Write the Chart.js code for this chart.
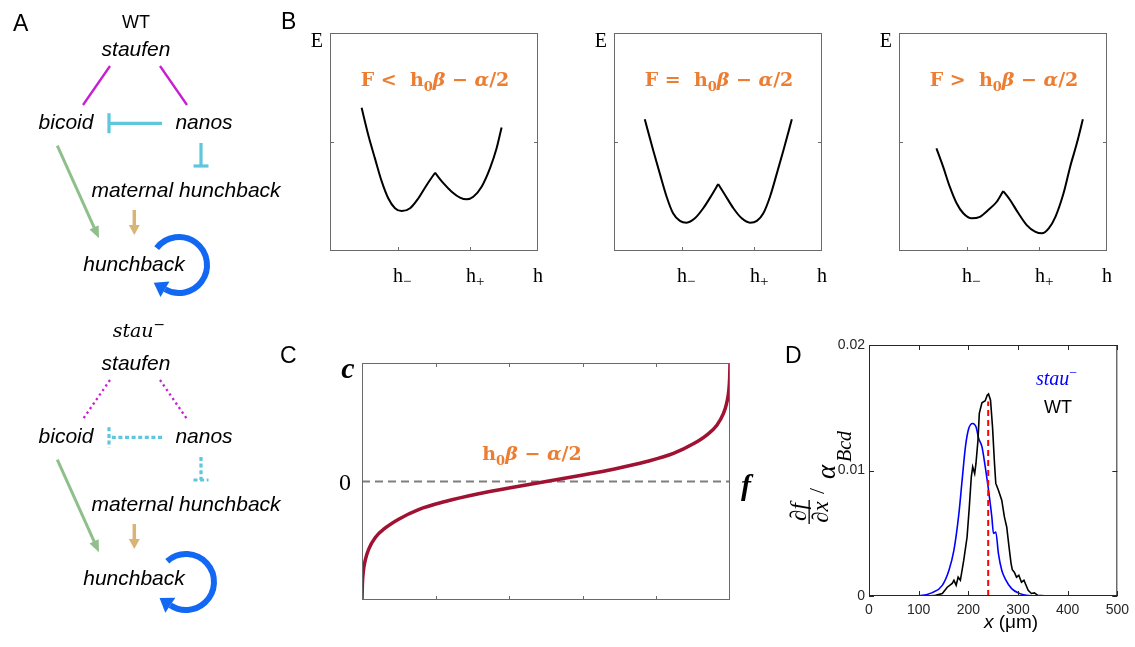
<!DOCTYPE html>
<html>
<head>
<meta charset="utf-8">
<script src="https://cdn.jsdelivr.net/npm/chart.js"></script>
<style>
  html, body { margin: 0; padding: 0; background: #fff; }
  #page { position: relative; width: 1135px; height: 647px; overflow: hidden; }
  #page canvas { position: absolute; }
  .tag { position: absolute; font: 23px "Liberation Sans", Arial, sans-serif; line-height: 23px; color: #000; }
</style>
</head>
<body>
<div id="page">
  <canvas id="netChart" width="298" height="647" style="left:0;top:0"></canvas>
  <canvas id="energyLow" width="270" height="300" style="left:300px;top:0"></canvas>
  <canvas id="energyEq" width="280" height="300" style="left:575px;top:0"></canvas>
  <canvas id="energyHigh" width="275" height="300" style="left:860px;top:0"></canvas>
  <canvas id="curveChart" width="480" height="300" style="left:280px;top:330px"></canvas>
  <canvas id="gradChart" width="355" height="317" style="left:780px;top:330px"></canvas>
  <div class="tag" style="left:13px;top:12px">A</div>
  <div class="tag" style="left:281px;top:10px">B</div>
  <div class="tag" style="left:280px;top:344px">C</div>
  <div class="tag" style="left:785px;top:344px">D</div>
</div>
<script>
const SANS = '"Liberation Sans", Arial, sans-serif';
const SERIF = '"Liberation Serif", "Times New Roman", serif';
const MATH = '"DejaVu Serif", serif';
const ORANGE = '#ed7d31';

// ---- B: energy E(h), left branch up to the cusp and right branch after it ----
const hTicks = [0.325, 0.675];
const hTickSigns = ['\u2212', '+'];
const eTicks = [0.5];

const lowLeftH  = [0.152, 0.184, 0.216, 0.249, 0.280, 0.3125, 0.345, 0.385, 0.425, 0.465, 0.505];
const lowLeftE  = [0.657, 0.532, 0.425, 0.318, 0.242, 0.196, 0.183, 0.196, 0.242, 0.303, 0.359];
const lowRightH = [0.505, 0.545, 0.585, 0.625, 0.657, 0.689, 0.729, 0.769, 0.801, 0.825];
const lowRightE = [0.359, 0.311, 0.272, 0.245, 0.237, 0.249, 0.295, 0.379, 0.471, 0.567];

const eqLeftH  = [0.148, 0.188, 0.220, 0.253, 0.284, 0.317, 0.349, 0.389, 0.429, 0.470, 0.501];
const eqLeftE  = [0.604, 0.463, 0.356, 0.249, 0.173, 0.138, 0.130, 0.150, 0.196, 0.257, 0.307];
const eqRightH = [0.501, 0.534, 0.574, 0.614, 0.654, 0.687, 0.718, 0.750, 0.783, 0.815, 0.855];
const eqRightE = [0.307, 0.257, 0.196, 0.150, 0.130, 0.138, 0.173, 0.249, 0.356, 0.463, 0.604];

const highLeftH  = [0.180, 0.212, 0.244, 0.277, 0.309, 0.349, 0.389, 0.429, 0.470, 0.501];
const highLeftE  = [0.471, 0.387, 0.295, 0.219, 0.173, 0.150, 0.157, 0.188, 0.226, 0.275];
const highRightH = [0.501, 0.534, 0.574, 0.614, 0.654, 0.687, 0.720, 0.752, 0.791, 0.823, 0.855, 0.884];
const highRightE = [0.275, 0.234, 0.173, 0.119, 0.089, 0.081, 0.104, 0.157, 0.265, 0.387, 0.494, 0.604];

// ---- C: c as a function of f ----
const fVals = [0, 0.005, 0.018, 0.045, 0.090, 0.181, 0.317, 0.498, 0.769, 1.131, 1.584, 2.036, 2.5,
               2.964, 3.416, 3.869, 4.231, 4.502, 4.683, 4.819, 4.910, 4.955, 4.982, 4.995, 5];
const cVals = [-1, -0.873, -0.761, -0.662, -0.572, -0.473, -0.392, -0.318, -0.237, -0.169, -0.104, -0.051, 0,
               0.051, 0.104, 0.169, 0.237, 0.318, 0.392, 0.473, 0.572, 0.662, 0.761, 0.873, 1];
const fTicks = [1, 2, 3, 4];

// ---- D: df/dx / alpha_Bcd along the embryo ----
const stauX = [0, 50, 100, 127.6, 147.6, 161, 171, 181, 187.5, 194.2, 200.8, 208.8, 215.4, 220.8, 227.4,
               234, 240.7, 247.3, 250.7, 255.3, 260.6, 267.3, 274, 287.2, 304, 320.5, 340, 400, 450, 500];
const stauY = [0, 0, 0.00002, 0.00027, 0.00085, 0.00205, 0.00365, 0.00657, 0.00923, 0.0119, 0.01335, 0.01375,
               0.01348, 0.01256, 0.0119, 0.0103, 0.00843, 0.0063, 0.00498, 0.0051, 0.00338, 0.00205, 0.00139,
               0.00059, 0.00019, 0.00004, 0, 0, 0, 0];
const wtX = [0, 60, 120, 134, 147.6, 157.6, 167.5, 171, 175.5, 179.5, 184, 190.8, 197.5, 202, 206, 208.8, 212.8,
             215.4, 219.4, 222.1, 227.4, 234, 238, 240.7, 244.7, 248.7, 252.7, 255.3, 260.6, 267.3, 272.6, 277.3,
             282, 286, 288.5, 292.6, 297, 301.7, 307, 312, 320.5, 327, 333, 340, 360, 420, 500];
const wtY = [0, 0, 0, 0.00005, 0.0002, 0.0007, 0.001, 0.00125, 0.00086, 0.0015, 0.00125, 0.00285, 0.0047, 0.0071,
             0.0095, 0.0103, 0.00976, 0.01056, 0.0124, 0.01455, 0.0154, 0.01556, 0.0160, 0.0161, 0.0156, 0.01348,
             0.01056, 0.00897, 0.00843, 0.00763, 0.0063, 0.0055, 0.0039, 0.0026, 0.0021, 0.0019, 0.0015, 0.00165,
             0.0011, 0.00125, 0.00045, 0.0002, 0.00025, 0.00005, 0, 0, 0];
const markX = [240, 240];
const markY = [0, 0.0155];
const xTicksUm = [0, 100, 200, 300, 400, 500];
const yTicksGrad = [0, 0.01, 0.02];
const yTickLabels = ['0', '0.01', '0.02'];

// ---- A: network layout (WT on top, stau- below) ----
const netShift = [0, 314];
const netLoopCentre = [[179, 265], [186, 268]];
const netLoopFrom = [-143, -132];
const netLoopTo = [120, 124];
const netNodes = [
  ['staufen', 136, 55.5],
  ['bicoid', 66, 129.3],
  ['nanos', 204, 129.3],
  ['maternal hunchback', 186, 197],
  ['hunchback', 134, 270.7]
];
const netLinks = [
  { x1: 110, y1: 66, x2: 83, y2: 105, color: '#c81ed2', w: 2.3, dash: [2.3, 3.2] },
  { x1: 160, y1: 66, x2: 187, y2: 105, color: '#c81ed2', w: 2.3, dash: [2.3, 3.2] },
  { x1: 162, y1: 123.3, x2: 109, y2: 123.3, color: '#5ec6dd', w: 3.2, dash: [4, 2.6], bar: 10 },
  { x1: 201, y1: 143, x2: 201, y2: 166, color: '#5ec6dd', w: 3.2, dash: [4, 2.6], bar: 7.5 },
  { x1: 57.3, y1: 145.7, x2: 99, y2: 238.3, color: '#8fc08b', w: 3, head: [12, 5] },
  { x1: 134.3, y1: 210, x2: 134.3, y2: 235, color: '#d9b477', w: 3.5, head: [10, 5.5] }
];

function drawParts(ctx, parts, x, y, align) {
  let w = 0;
  parts.forEach(p => { ctx.font = p[1]; w += ctx.measureText(p[0]).width; });
  let cx = align === 'center' ? x - w / 2 : align === 'right' ? x - w : x;
  ctx.textAlign = 'left';
  ctx.textBaseline = 'alphabetic';
  parts.forEach(p => {
    ctx.font = p[1];
    ctx.fillText(p[0], cx, y + (p[2] || 0));
    cx += ctx.measureText(p[0]).width;
  });
}

function formulaParts(lead) {
  const b = 'bold 19px ' + MATH, bi = 'bold italic 19px ' + MATH, sub = 'bold 13px ' + MATH;
  const parts = lead ? [[lead, b]] : [];
  return parts.concat([['h', b], ['0', sub, 5], ['\u03b2', bi], [' \u2212 ', b], ['\u03b1', bi], ['/2', b]]);
}

function lineSet(xs, ys, color, width, extra) {
  return Object.assign({
    data: xs.map((x, i) => ({ x: x, y: ys[i] })),
    borderColor: color,
    borderWidth: width,
    pointRadius: 0,
    fill: false,
    tension: 0
  }, extra || {});
}

function baseOptions(pad, xr, yr, extraPlugins) {
  return {
    responsive: false,
    animation: false,
    events: [],
    layout: { padding: pad },
    plugins: Object.assign({ legend: { display: false }, tooltip: { enabled: false } }, extraPlugins || {}),
    scales: {
      x: { type: 'linear', min: xr[0], max: xr[1], display: false },
      y: { type: 'linear', min: yr[0], max: yr[1], display: false, reverse: !!yr[2] }
    }
  };
}

// box round the plot area with ticks pointing inwards
const framePlugin = {
  id: 'frame',
  afterDatasetsDraw(chart, args, o) {
    const ctx = chart.ctx, a = chart.chartArea;
    const sx = chart.scales.x, sy = chart.scales.y;
    ctx.save();
    ctx.strokeStyle = o.color;
    ctx.lineWidth = 1;
    ctx.strokeRect(a.left + 0.5, a.top + 0.5, a.right - a.left - 1, a.bottom - a.top - 1);
    ctx.beginPath();
    (o.xTicks || []).forEach(v => {
      const px = Math.round(sx.getPixelForValue(v)) + 0.5;
      ctx.moveTo(px, a.bottom); ctx.lineTo(px, a.bottom - o.len);
      if (o.top) { ctx.moveTo(px, a.top); ctx.lineTo(px, a.top + o.len); }
    });
    (o.yTicks || []).forEach(v => {
      const py = Math.round(sy.getPixelForValue(v)) + 0.5;
      ctx.moveTo(a.left, py); ctx.lineTo(a.left + o.len, py);
      if (o.right) { ctx.moveTo(a.right, py); ctx.lineTo(a.right - o.len, py); }
    });
    ctx.stroke();
    ctx.restore();
  }
};

// ---------- A ----------
const netSets = [];
netShift.forEach((off, d) => {
  netLinks.forEach(l => {
    let x2 = l.x2, y2 = l.y2;
    const len = Math.hypot(l.x2 - l.x1, l.y2 - l.y1);
    const ux = (l.x2 - l.x1) / len, uy = (l.y2 - l.y1) / len;
    if (l.head) { x2 -= ux * l.head[0] * 0.7; y2 -= uy * l.head[0] * 0.7; }
    const dash = d === 1 && l.dash ? l.dash : [];
    netSets.push(lineSet([l.x1, x2], [l.y1 + off, y2 + off], l.color, l.w, { borderDash: dash, borderCapStyle: 'butt' }));
    if (l.bar) {
      netSets.push(lineSet([l.x2 - uy * l.bar, l.x2 + uy * l.bar], [l.y2 + ux * l.bar + off, l.y2 - ux * l.bar + off],
        l.color, l.w, { borderDash: dash, borderCapStyle: 'butt' }));
    }
  });
});

new Chart(document.getElementById('netChart'), {
  type: 'line',
  data: { datasets: netSets },
  options: baseOptions(0, [0, 298], [0, 647, true]),
  plugins: [{
    id: 'netMarks',
    afterDatasetsDraw(chart) {
      const ctx = chart.ctx, sx = chart.scales.x, sy = chart.scales.y;
      const X = v => sx.getPixelForValue(v), Y = v => sy.getPixelForValue(v);
      ctx.save();
      netShift.forEach((off, d) => {
        // arrow heads
        netLinks.filter(l => l.head).forEach(l => {
          const len = Math.hypot(l.x2 - l.x1, l.y2 - l.y1);
          const ux = (l.x2 - l.x1) / len, uy = (l.y2 - l.y1) / len;
          const tx = X(l.x2), ty = Y(l.y2 + off);
          const bx = tx - ux * l.head[0], by = ty - uy * l.head[0];
          ctx.fillStyle = l.color;
          ctx.beginPath();
          ctx.moveTo(tx, ty);
          ctx.lineTo(bx - uy * l.head[1], by + ux * l.head[1]);
          ctx.lineTo(bx + uy * l.head[1], by - ux * l.head[1]);
          ctx.closePath();
          ctx.fill();
        });
        // self-activation loop on hunchback
        const c = netLoopCentre[d];
        const cx = X(c[0]), cy = Y(c[1] + off), r = 28;
        const a0 = netLoopFrom[d] * Math.PI / 180, a1 = netLoopTo[d] * Math.PI / 180;
        ctx.strokeStyle = '#1268f2';
        ctx.lineWidth = 6;
        ctx.beginPath();
        ctx.arc(cx, cy, r, a0, a1);
        ctx.stroke();
        const px = cx + r * Math.cos(a1), py = cy + r * Math.sin(a1);
        const tx = -Math.sin(a1), ty = Math.cos(a1), nx = Math.cos(a1), ny = Math.sin(a1);
        ctx.fillStyle = '#1268f2';
        ctx.beginPath();
        ctx.moveTo(px + tx * 13, py + ty * 13);
        ctx.lineTo(px + nx * 9, py + ny * 9);
        ctx.lineTo(px - nx * 9, py - ny * 9);
        ctx.closePath();
        ctx.fill();
        // gene names
        ctx.fillStyle = '#000';
        netNodes.forEach(n => drawParts(ctx, [[n[0], 'italic 21px ' + SANS]], X(n[1]), Y(n[2] + off), 'center'));
      });
      drawParts(ctx, [['WT', '18px ' + SANS]], X(136), Y(28.3), 'center');
      drawParts(ctx, [['stau', 'italic 19px ' + MATH], ['\u2212', '14px ' + MATH, -8]], X(139), Y(337.3), 'center');
      ctx.restore();
    }
  }]
});

// ---------- B ----------
function energyChart(id, pad, lh, le, rh, re, rel) {
  new Chart(document.getElementById(id), {
    type: 'line',
    data: {
      datasets: [
        lineSet(lh, le, '#000', 2, { cubicInterpolationMode: 'monotone' }),
        lineSet(rh, re, '#000', 2, { cubicInterpolationMode: 'monotone' })
      ]
    },
    options: baseOptions(pad, [0, 1], [0, 1], {
      frame: { color: '#6a6a6a', len: 4, xTicks: hTicks, yTicks: eTicks, right: true }
    }),
    plugins: [framePlugin, {
      id: 'energyText',
      afterDraw(chart) {
        const ctx = chart.ctx, a = chart.chartArea, sx = chart.scales.x;
        ctx.save();
        ctx.fillStyle = ORANGE;
        drawParts(ctx, formulaParts('F ' + rel + '  '), (a.left + a.right) / 2 + 1, 86, 'center');
        ctx.fillStyle = '#000';
        drawParts(ctx, [['E', '20px ' + SERIF]], a.left - 7, 47, 'right');
        drawParts(ctx, [['h', '20px ' + SERIF]], a.right, 281.5, 'center');
        hTicks.forEach((v, i) => {
          drawParts(ctx, [['h', '20px ' + SERIF], [hTickSigns[i], '15px ' + SERIF, 4]], sx.getPixelForValue(v) - 4.5, 281.5, 'left');
        });
        ctx.restore();
      }
    }]
  });
}
energyChart('energyLow', { left: 30, right: 32, top: 33, bottom: 49 }, lowLeftH, lowLeftE, lowRightH, lowRightE, '<');
energyChart('energyEq', { left: 39, right: 33, top: 33, bottom: 49 }, eqLeftH, eqLeftE, eqRightH, eqRightE, '=');
energyChart('energyHigh', { left: 39, right: 28, top: 33, bottom: 49 }, highLeftH, highLeftE, highRightH, highRightE, '>');

// ---------- C ----------
new Chart(document.getElementById('curveChart'), {
  type: 'line',
  data: {
    datasets: [
      lineSet(fVals, cVals, '#a01232', 3.5, { cubicInterpolationMode: 'monotone' }),
      lineSet([0, 5], [0, 0], '#7f7f7f', 2, { borderDash: [8, 5] })
    ]
  },
  options: baseOptions({ left: 82, right: 30, top: 33, bottom: 30 }, [0, 5], [-1, 1], {
    frame: { color: '#6a6a6a', len: 4, xTicks: fTicks, top: true }
  }),
  plugins: [framePlugin, {
    id: 'curveText',
    afterDraw(chart) {
      const ctx = chart.ctx, a = chart.chartArea, sy = chart.scales.y;
      ctx.save();
      ctx.fillStyle = '#000';
      drawParts(ctx, [['c', 'bold italic 30px ' + SERIF]], a.left - 14, a.top + 15, 'center');
      drawParts(ctx, [['0', '24px ' + SERIF]], a.left - 17, sy.getPixelForValue(0) + 8.5, 'center');
      drawParts(ctx, [['f', 'bold italic 30px ' + SERIF]], a.right + 16, sy.getPixelForValue(0) + 13, 'center');
      ctx.fillStyle = ORANGE;
      drawParts(ctx, formulaParts(''), 252, 130, 'center');
      ctx.restore();
    }
  }]
});

// ---------- D ----------
const tickFont = { family: '"Liberation Sans", Arial, sans-serif', size: 14 };
new Chart(document.getElementById('gradChart'), {
  type: 'line',
  data: {
    datasets: [
      lineSet(markX, markY, '#ff0000', 2, { borderDash: [6, 4] }),
      lineSet(wtX, wtY, '#000000', 1.6),
      lineSet(stauX, stauY, '#0000ff', 1.6, { cubicInterpolationMode: 'monotone' })
    ]
  },
  options: {
    responsive: false,
    animation: false,
    events: [],
    layout: { padding: { left: 0, right: 15, top: 15, bottom: 0 } },
    plugins: {
      legend: { display: false },
      tooltip: { enabled: false },
      frame: { color: '#262626', len: 5, xTicks: xTicksUm, yTicks: yTicksGrad, top: true, right: true }
    },
    scales: {
      x: {
        type: 'linear', min: 0, max: 500,
        afterBuildTicks: s => { s.ticks = xTicksUm.map(v => ({ value: v })); },
        afterFit: s => { s.height = 51; },
        grid: { display: false, drawTicks: false },
        border: { display: false },
        ticks: { font: tickFont, color: '#262626', padding: 6, maxRotation: 0, autoSkip: false, callback: v => String(v) }
      },
      y: {
        type: 'linear', min: 0, max: 0.02,
        afterBuildTicks: s => { s.ticks = yTicksGrad.map(v => ({ value: v })); },
        afterFit: s => { s.width = 89; },
        grid: { display: false, drawTicks: false },
        border: { display: false },
        ticks: { font: tickFont, color: '#262626', padding: 4, autoSkip: false,
                 callback: (v, i) => yTickLabels[i] }
      }
    }
  },
  plugins: [framePlugin, {
    id: 'gradText',
    afterDraw(chart) {
      const ctx = chart.ctx;
      ctx.save();
      // legend
      ctx.fillStyle = '#0000ff';
      drawParts(ctx, [['stau', 'italic 20px ' + SERIF], ['\u2212', '14px ' + SERIF, -8]], 276.5, 55, 'center');
      ctx.fillStyle = '#000';
      drawParts(ctx, [['WT', '18px ' + SANS]], 278, 82.7, 'center');
      // x label
      drawParts(ctx, [['x', 'italic 19px ' + SANS], [' (\u03bcm)', '19px ' + SANS]], 231, 298, 'center');
      // y label: (df/dx) / alpha_Bcd, written bottom to top
      ctx.translate(40, 147);
      ctx.rotate(-Math.PI / 2);
      const f = 'italic 23px ' + SERIF;
      drawParts(ctx, [['\u2202f', f]], -35, -14, 'center');
      ctx.fillRect(-47, -11.5, 24, 1.3);
      drawParts(ctx, [['\u2202x', f]], -35, 8, 'center');
      drawParts(ctx, [['/', '22px ' + SERIF]], -14, 4, 'center');
      drawParts(ctx, [['\u03b1', 'italic 27px ' + SERIF]], -2, 15, 'left');
      drawParts(ctx, [['Bcd', 'italic 20px ' + SERIF]], 15, 31, 'left');
      ctx.restore();
    }
  }]
});
</script>
</body>
</html>
